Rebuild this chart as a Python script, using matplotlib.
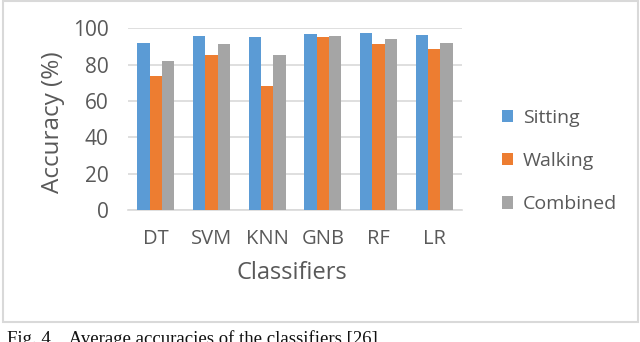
import matplotlib
matplotlib.use("Agg")
import matplotlib.pyplot as plt
import numpy as np
from matplotlib.patches import Rectangle

categories = ["DT", "SVM", "KNN", "GNB", "RF", "LR"]
sitting = [92, 95.6, 95, 96.7, 97.3, 96.2]
walking = [73.6, 85.5, 68.3, 95.1, 91.2, 88.8]
combined = [82.2, 91.2, 85.2, 95.8, 94.3, 91.8]
series_names = ["Sitting", "Walking", "Combined"]
colors = ["#5b9bd5", "#ed7d31", "#a5a5a5"]
yticks = [0, 20, 40, 60, 80, 100]

W, H = 640, 342
fig = plt.figure(figsize=(6.4, 3.42), dpi=100)
fontname = "Open Sans"
tc = "#595959"

ax = fig.add_axes([128 / W, 1 - 210 / H, (462 - 128) / W, (210 - 28.3) / H])
x = np.arange(len(categories))
bw = 0.22
for i, (vals, name, c) in enumerate(zip([sitting, walking, combined], series_names, colors)):
    ax.bar(x + (i - 1) * bw, vals, bw, color=c, label=name, zorder=3)

ax.set_xlim(-0.5, len(categories) - 0.5)
ax.set_ylim(0, 100)
ax.set_yticks(yticks)
ax.set_yticklabels([str(t) for t in yticks], fontname=fontname, fontsize=15, color=tc)
ax.set_xticks(x)
ax.set_xticklabels(categories, fontname=fontname, fontsize=14.5, color=tc)
ax.tick_params(length=0)
ax.tick_params(axis="y", pad=14)
ax.tick_params(axis="x", pad=14)
ax.grid(axis="y", color="#d9d9d9", linewidth=1.2, zorder=0)
for s in ["top", "right", "left"]:
    ax.spines[s].set_visible(False)
ax.spines["bottom"].set_color("#d9d9d9")
ax.spines["bottom"].set_linewidth(1.2)
ax.set_ylabel("Accuracy (%)", fontname=fontname, fontsize=17.5, color=tc)
ax.yaxis.set_label_coords(53 / W, 1 - 122 / H, transform=fig.transFigure)
ax.set_xlabel("Classifiers", fontname=fontname, fontsize=17, color=tc)
ax.xaxis.set_label_coords(292 / W, 1 - 273 / H, transform=fig.transFigure)
ax.xaxis.label.set_va("center")
ax.yaxis.label.set_va("center")

leg = ax.legend(loc="center left", bbox_to_anchor=(484 / W, 1 - 161 / H),
                bbox_transform=fig.transFigure, frameon=False,
                prop={"family": fontname, "size": 14}, labelspacing=1.3,
                handlelength=0.6, handleheight=0.6, handletextpad=0.5)
for t in leg.get_texts():
    t.set_color(tc)

fig.patches.append(Rectangle((3 / W, 1 - 322 / H), (638 - 3) / W, (322 - 1) / H,
                             transform=fig.transFigure, fill=False,
                             edgecolor="#d9d9d9", linewidth=1.5))
fig.text(7 / W, 1 - 344 / H, "Fig. 4    Average accuracies of the classifiers [26]",
         fontname="Liberation Serif", fontsize=13.5, color="#111111", va="baseline", ha="left")

fig.savefig("out.png", dpi=100)
